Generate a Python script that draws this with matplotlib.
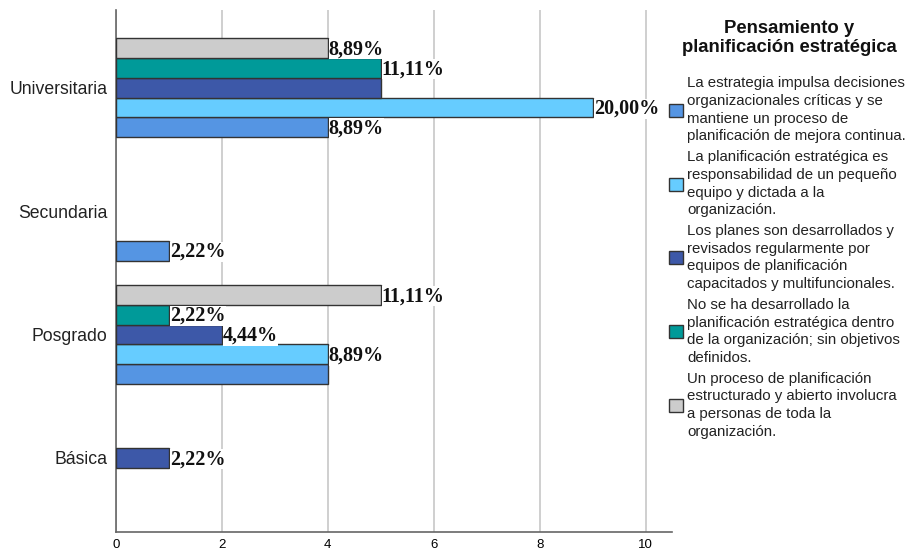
import matplotlib
matplotlib.use("Agg")
import matplotlib.pyplot as plt
from matplotlib.patches import Patch

# categories from top to bottom as they appear
categories = ["Universitaria", "Secundaria", "Posgrado", "Básica"]

# counts per series, same order as categories
s1 = [4, 1, 4, 0]
s2 = [9, 0, 4, 0]
s3 = [5, 0, 2, 1]
s4 = [5, 0, 1, 0]
s5 = [4, 0, 5, 0]

# labels printed at the bar ends (some are hidden in the original)
l1 = ["8,89%", "2,22%", "", ""]
l2 = ["20,00%", "", "8,89%", ""]
l3 = ["", "", "4,44%", "2,22%"]
l4 = ["11,11%", "", "2,22%", ""]
l5 = ["8,89%", "", "11,11%", ""]

series_names = [
    "La estrategia impulsa decisiones\norganizacionales críticas y se\nmantiene un proceso de\nplanificación de mejora continua.",
    "La planificación estratégica es\nresponsabilidad de un pequeño\nequipo y dictada a la\norganización.",
    "Los planes son desarrollados y\nrevisados regularmente por\nequipos de planificación\ncapacitados y multifuncionales.",
    "No se ha desarrollado la\nplanificación estratégica dentro\nde la organización; sin objetivos\ndefinidos.",
    "Un proceso de planificación\nestructurado y abierto involucra\na personas de toda la\norganización.",
]
legend_title = "Pensamiento y\nplanificación estratégica"
ticks_x = [0, 2, 4, 6, 8, 10]

colors = ["#5595E3", "#66CCFF", "#3D58A8", "#009A99", "#CCCCCC"]
values = [s1, s2, s3, s4, s5]
labels = [l1, l2, l3, l4, l5]

fig = plt.figure(figsize=(9.08, 5.57), dpi=100)
ax = fig.add_axes([116 / 908, 25 / 557, 556 / 908, 522 / 557])

n_cat = len(categories)
ypos = [n_cat - 1 - i for i in range(n_cat)]
h = 0.16

for k, (vals, labs, col) in enumerate(zip(values, labels, colors)):
    yy = [y + (k - 2) * h for y in ypos]
    for y, v, lab in zip(yy, vals, labs):
        if v == 0:
            continue
        ax.barh(y, v, height=h, color=col, edgecolor="#333333", linewidth=1.0, zorder=3)
        if lab:
            ax.text(v + 0.02, y - 0.01, lab, va="center", ha="left",
                    fontsize=14.5, fontweight="bold", family="Liberation Serif",
                    color="#111111", zorder=4,
                    bbox=dict(boxstyle="square,pad=0.0", fc="white", ec="none"))

ax.set_xlim(0, 10.5)
ax.set_ylim(-0.6, 3.63)
ax.set_xticks(ticks_x)
ax.set_xticklabels([str(t) for t in ticks_x], fontsize=9.5, family="Liberation Sans")
ax.set_yticks(ypos)
ax.set_yticklabels(categories, fontsize=12.7, family="Liberation Sans", color="#222222")
ax.tick_params(axis="y", length=0, pad=6)
ax.tick_params(axis="x", length=0, pad=5)
ax.xaxis.grid(True, color="#CCCCCC", linewidth=1.3, zorder=0)
ax.set_axisbelow(True)
for side in ["top", "right"]:
    ax.spines[side].set_visible(False)
for side in ["left", "bottom"]:
    ax.spines[side].set_color("#666666")
    ax.spines[side].set_linewidth(1.2)

# legend title drawn separately so the gap to the entries matches
fig.text(789 / 908, 1 - 38 / 557, legend_title, ha="center", va="center",
         fontsize=13.3, fontweight="bold", family="Liberation Sans",
         linespacing=1.2, color="#111111")

handles = [Patch(facecolor=c, edgecolor="#333333", linewidth=1.0) for c in colors]
leg = fig.legend(handles, series_names, loc="upper left",
                 bbox_to_anchor=(658 / 908, 1 - 66 / 557), frameon=False,
                 prop={"family": "Liberation Sans", "size": 10.8},
                 handlelength=0.95, handleheight=0.95, handletextpad=0.3,
                 labelspacing=0.46, borderpad=0.2)
for t in leg.get_texts():
    t.set_linespacing(1.33)
    t.set_color("#222222")

fig.savefig("out.png", dpi=100)
